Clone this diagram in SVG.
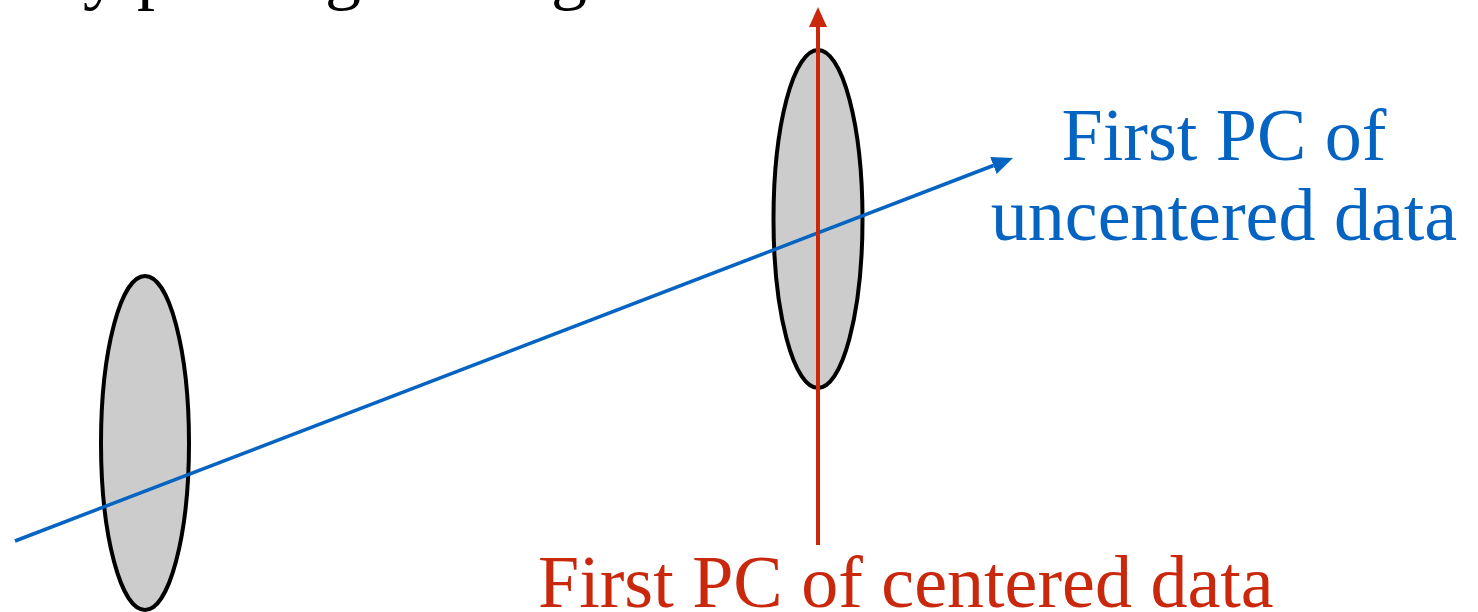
<svg xmlns="http://www.w3.org/2000/svg" width="1478" height="612" viewBox="0 0 1478 612">
  <style>
    .blob { fill: #CCCCCC; stroke: #000000; stroke-width: 4; }
    .txt { font-family: "Liberation Serif", "Times New Roman", serif; font-size: 74px; }
    .blue { fill: #0563C1; }
    .red { fill: #C9280C; }
  </style>
  <defs>
    <marker id="arrBlue" markerUnits="userSpaceOnUse" markerWidth="24" markerHeight="22" viewBox="0 -11 24 22" refX="0" refY="0" orient="auto">
      <path d="M0,-9 L21,0 L0,9 Z" fill="#0563C1"/>
    </marker>
    <marker id="arrRed" markerUnits="userSpaceOnUse" markerWidth="24" markerHeight="22" viewBox="0 -11 24 22" refX="0" refY="0" orient="auto">
      <path d="M0,-9 L20,0 L0,9 Z" fill="#C9280C"/>
    </marker>
  </defs>

  <text class="txt" x="35" y="-4" fill="#000000" style="font-size:72px"><tspan x="35">By</tspan> <tspan x="137">plotting</tspan> <tspan x="427">along</tspan></text>

  <g id="cluster-left">
    <ellipse class="blob" cx="145" cy="443" rx="44" ry="167"/>
  </g>
  <g id="cluster-right">
    <ellipse class="blob" cx="818" cy="219" rx="44.5" ry="169"/>
  </g>

  <g id="connectors">
    <line x1="15" y1="541" x2="993.4" y2="165.5" stroke="#0563C1" stroke-width="3.5" marker-end="url(#arrBlue)"/>
    <line x1="818" y1="545" x2="818" y2="27" stroke="#C9280C" stroke-width="4" marker-end="url(#arrRed)"/>
  </g>

  <g id="label-uncentered">
    <text class="txt blue" x="1224" y="160" text-anchor="middle">First PC of</text>
    <text class="txt blue" x="1224" y="240" text-anchor="middle">uncentered data</text>
  </g>
  <g id="label-centered">
    <text class="txt red" x="538" y="607">First PC of centered data</text>
  </g>
</svg>
